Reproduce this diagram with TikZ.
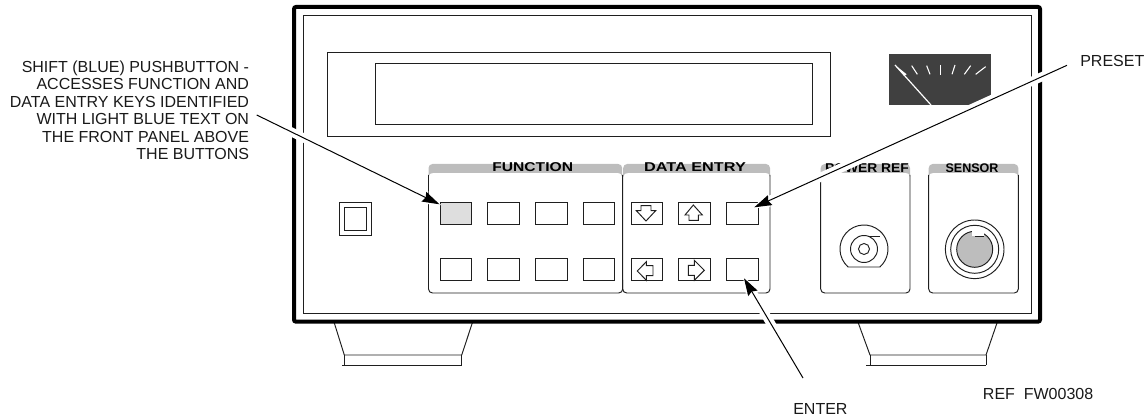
\documentclass[tikz,border=0pt]{standalone}
\usepackage{fontspec}
\setmainfont{Liberation Sans}
\usetikzlibrary{arrows.meta}
\definecolor{bandgray}{gray}{0.74}
\definecolor{keygray}{gray}{0.87}
\definecolor{meterdark}{gray}{0.25}
\definecolor{lineblack}{gray}{0.12}
\tikzset{
  x=0.75pt,y=-0.75pt,
  thinline/.style={draw=lineblack,line width=0.72pt},
  keybtn/.style={thinline,rectangle,inner sep=0pt,minimum width=23.5pt,minimum height=16.6pt},
  callout/.style={inner sep=0pt,font=\fontsize{12}{13.1}\selectfont,text=black!90},
  bandtext/.style={inner sep=0pt,text=black,anchor=base},
  band/.style={fill=bandgray,draw=none},
  halo/.style={white,line width=6.75pt,-{Stealth[length=13pt,width=10pt,white]},shorten >=-1.5pt},
  leader/.style={black,line width=0.75pt,-{Stealth[length=13pt,width=8pt,inset=1.5pt]}},
  ticks/.style={white,line width=0.8pt}
}
\begin{document}
\begin{tikzpicture}
\useasboundingbox (0,0) rectangle (1146,420);
% feet
\draw[thinline] (334.3,323) -- (344.3,355) -- (461.7,355) -- (472.3,323);
\draw[thinline] (344.3,355) -- (344.3,365.3);
\draw[thinline] (461.7,355) -- (461.7,365.3);
\draw[thinline] (342,365.3) -- (461.7,365.3);
\draw[thinline] (858.3,323) -- (870,355) -- (986,355) -- (997,323);
\draw[thinline] (870,355) -- (870,365.3);
\draw[thinline] (986,355) -- (986,365.3);
\draw[thinline] (866,365.3) -- (986,365.3);
% cabinet
\draw[black,line width=3pt,rounded corners=1.5pt] (294,7) rectangle (1040,321.7);
\draw[thinline] (303.5,15.5) rectangle (1031,313);
% display
\draw[thinline] (327,52) rectangle (830.7,136);
\draw[thinline] (375,63.5) rectangle (812.7,124);
% meter
\fill[meterdark] (889,54) rectangle (991,105);
\begin{scope}[shift={(880,45)},x=0.25pt,y=-0.25pt]
  \fill[white] (45,60) -- (80,88) -- (72,92) -- cycle;
  \draw[white,line width=0.9pt] (45,60) -- (153,180);
  \draw[ticks] (95,62) -- (112,88);
  \draw[ticks] (140,62) -- (150,88);
  \draw[ticks] (181,60) -- (181,90);
  \draw[ticks] (225,60) -- (216,88);
  \draw[ticks] (272,62) -- (253,88);
  \draw[ticks] (317,65) -- (287,88);
\end{scope}
% power switch
\draw[thinline] (339.3,202.3) rectangle (371,235);
\draw[thinline] (344.3,207.7) rectangle (366,230);
% bands
\path[band] (428.5,177) -- (428.5,168) arc[start angle=180,end angle=270,radius=4] -- (618.2,164) arc[start angle=270,end angle=360,radius=4] -- (622.2,177) .. controls (622,174) and (620,173) .. (618,173) -- (433,173) .. controls (430.5,173) and (428.7,174) .. (428.5,177) -- cycle;
\path[band] (623.2,177) -- (623.2,168) arc[start angle=180,end angle=270,radius=4] -- (766,164) arc[start angle=270,end angle=360,radius=4] -- (770,177) .. controls (769.8,174) and (768,173) .. (766,173) -- (628,173) .. controls (625.5,173) and (623.4,174) .. (623.2,177) -- cycle;
\path[band] (820.7,177) -- (820.7,168) arc[start angle=180,end angle=270,radius=4] -- (906,164) arc[start angle=270,end angle=360,radius=4] -- (910,177) .. controls (909.8,174) and (908,173) .. (906,173) -- (825,173) .. controls (822.5,173) and (820.9,174) .. (820.7,177) -- cycle;
\path[band] (928.7,177) -- (928.7,168) arc[start angle=180,end angle=270,radius=4] -- (1014.3,164) arc[start angle=270,end angle=360,radius=4] -- (1018.3,177) .. controls (1018.1,174) and (1016.3,173) .. (1014.3,173) -- (933,173) .. controls (930.5,173) and (928.9,174) .. (928.7,177) -- cycle;
% panels
\draw[thinline,rounded corners=3pt] (428.5,175) -- (428.5,293) -- (622.7,293) -- (622.7,175);
\draw[thinline,rounded corners=3pt] (622.7,280) -- (622.7,293) -- (770,293) -- (770,175);
\draw[thinline,rounded corners=3pt] (820.7,175) -- (820.7,293) -- (910,293) -- (910,175);
\draw[thinline,rounded corners=3pt] (928.7,175) -- (928.7,293) -- (1018.3,293) -- (1018.3,175);
% panel titles
\node[bandtext,font=\fontsize{9.6}{11}\selectfont\bfseries] (functitle) at (532.7,171.7) {\scalebox{1.22}[1]{FUNCTION}};
\node[bandtext,font=\fontsize{9.6}{11}\selectfont\bfseries] (datatitle) at (695,171.7) {\scalebox{1.27}[1]{DATA ENTRY}};
\node[bandtext,font=\fontsize{9.6}{11}\selectfont\bfseries] (powertitle) at (867,173) {\scalebox{1.08}[1]{POWER REF}};
\node[bandtext,font=\fontsize{9.4}{11}\selectfont\bfseries] (sensortitle) at (972,173) {SENSOR};
% keys
\node[keybtn,fill=keygray] (fa) at (456,213.2) {};
\node[keybtn] (fb) at (503.6,213.2) {};
\node[keybtn] (fc) at (551.5,213.2) {};
\node[keybtn] (fd) at (599.1,213.2) {};
\node[keybtn] (fe) at (456,269.5) {};
\node[keybtn] (ff) at (503.6,269.5) {};
\node[keybtn] (fg) at (551.5,269.5) {};
\node[keybtn] (fh) at (599.1,269.5) {};
\node[keybtn] (da) at (647.2,213.2) {};
\node[keybtn] (db) at (694.5,213.2) {};
\node[keybtn] (preset) at (742.5,213.2) {};
\node[keybtn] (dc) at (647.2,269.5) {};
\node[keybtn] (dd) at (694.5,269.5) {};
\node[keybtn] (enter) at (742.5,269.5) {};
\begin{scope}[shift={(625,195)},x=0.25pt,y=-0.25pt]
  \draw[thinline] (48,32) -- (78,32) -- (78,47) -- (92,47) -- (63,78) -- (34,47) -- (48,47) -- cycle;
  \draw[thinline] (205,30) -- (232,60) -- (220,60) -- (220,76) -- (192,76) -- (192,60) -- (180,60) -- cycle;
  \draw[thinline] (37,228) -- (64,200) -- (64,212) -- (84,212) -- (84,242) -- (64,242) -- (64,256) -- cycle;
  \draw[thinline] (238,226) -- (208,196) -- (208,211) -- (190,211) -- (190,241) -- (208,241) -- (208,256) -- cycle;
\end{scope}
% power ref connector
\draw[thinline] (848.1,267) arc[start angle=131.4,end angle=408.6,radius=24] -- cycle;
\draw[thinline] (864,249) circle[radius=13.5];
\draw[thinline] (864,249) circle[radius=5.5];
\draw[thinline] (868,236.7) -- (880,236.7);
% sensor connector
\draw[thinline] (974.7,249.3) circle[radius=29.3];
\draw[thinline] (974.7,249.3) circle[radius=24];
\draw[thinline,fill=bandgray] (974.7,249.3) circle[radius=18];
\fill[white] (971.7,230.5) rectangle (984,236.5);
\draw[thinline] (975,236.7) -- (984,236.7);
% callouts
\node[callout,align=right,anchor=north east] (shiftlabel) at (249.3,60.5) {SHIFT (BLUE) PUSHBUTTON -\\ACCESSES FUNCTION AND\\DATA ENTRY KEYS IDENTIFIED\\WITH LIGHT BLUE TEXT ON\\THE FRONT PANEL ABOVE\\THE BUTTONS};
\node[callout,anchor=base west] (presetlabel) at (1080,67) {PRESET};
\node[callout,anchor=base west] (enterlabel) at (793,414) {ENTER};
\node[callout,anchor=base west] (reflabel) at (982.7,399) {REF\ \ FW00308};
\coordinate (shifttail) at (256.7,115);
\coordinate (shifttip) at (439.5,204.3);
\coordinate (presettail) at (1067,65.3);
\coordinate (presettip) at (754.3,207.3);
\coordinate (entertail) at (803,378);
\coordinate (entertip) at (744,278.3);
\draw[halo] (shifttail) -- (shifttip);
\draw[halo] (presettail) -- (presettip);
\draw[halo] (entertail) -- (entertip);
\draw[leader] (shifttail) -- (shifttip);
\draw[leader] (presettail) -- (presettip);
\draw[leader] (entertail) -- (entertip);
\end{tikzpicture}
\end{document}
